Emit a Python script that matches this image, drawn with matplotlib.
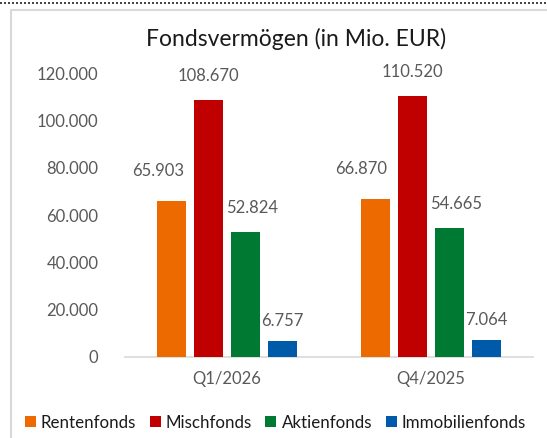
import numpy as np
import matplotlib
matplotlib.use('Agg')
import matplotlib.pyplot as plt
from matplotlib.lines import Line2D

plt.rcParams['font.family'] = ['Lato', 'DejaVu Sans']

# Daten
quartale = ['Q1/2026', 'Q4/2025']
serien = ['Rentenfonds', 'Mischfonds', 'Aktienfonds', 'Immobilienfonds']
rentenfonds = [65903, 66870]
mischfonds = [108670, 110520]
aktienfonds = [52824, 54665]
immobilienfonds = [6757, 7064]
farben = ['#EC6A00', '#C00000', '#007A33', '#005AAA']

werte = [rentenfonds, mischfonds, aktienfonds, immobilienfonds]

def fmt(v):
    return f'{v:,.0f}'.replace(',', '.')

fig = plt.figure(figsize=(5.47, 4.38), dpi=100)
ax = fig.add_axes([0.2285, 0.185, 0.7455, 0.648])

x = np.arange(len(quartale))
breite = 0.143
abstand = 0.181
# kleine Verschiebungen der Beschriftungen (wie im Original)
dx_label = [-10, 0, 5, 0]
dy_label = [30, 24, 24, 20]

for i, (name, vals) in enumerate(zip(serien, werte)):
    pos = x + (i - 1.5) * abstand
    ax.bar(pos, vals, width=breite, color=farben[i], label=name, zorder=3)
    for p, v in zip(pos, vals):
        ax.annotate(fmt(v), (p, v), xytext=(dx_label[i], dy_label[i] * 0.72),
                    textcoords='offset points', ha='center', va='center',
                    fontsize=12, color='#595959')

ax.set_ylim(0, 120000)
ax.set_xlim(-0.5, 1.5)
ax.set_yticks(np.arange(0, 120001, 20000))
ax.set_yticklabels([fmt(v) for v in np.arange(0, 120001, 20000)])
ax.set_xticks(x)
ax.set_xticklabels(quartale)
ax.tick_params(axis='both', length=0, labelsize=12, colors='#595959')
ax.tick_params(axis='y', pad=19)
ax.tick_params(axis='x', pad=10)
for s in ['top', 'right', 'left']:
    ax.spines[s].set_visible(False)
ax.spines['bottom'].set_color('#D9D9D9')
ax.spines['bottom'].set_linewidth(1.2)

fig.text(0.541, 0.91, 'Fondsvermögen (in Mio. EUR)', ha='center', va='center',
         fontsize=16.5, color='#1a1a1a')

leg = fig.legend(loc='center left', bbox_to_anchor=(0.017, 0.035), ncol=4,
                 frameon=False, fontsize=12.2, handlelength=0.65, handleheight=0.65,
                 handletextpad=0.3, columnspacing=0.8)
for t in leg.get_texts():
    t.set_color('#1a1a1a')

# Rahmen und gepunktete Linie oben
fig.add_artist(Line2D([0, 1], [0.994, 0.994], transform=fig.transFigure,
                      color='#222222', linestyle=(0, (1.2, 1.2)), linewidth=1.2))
fig.add_artist(Line2D([0.021, 0.021, 1.0], [0.0, 0.977, 0.977], transform=fig.transFigure,
                      color='#D9D9D9', linewidth=1.5))

fig.savefig('out.png', dpi=100)
